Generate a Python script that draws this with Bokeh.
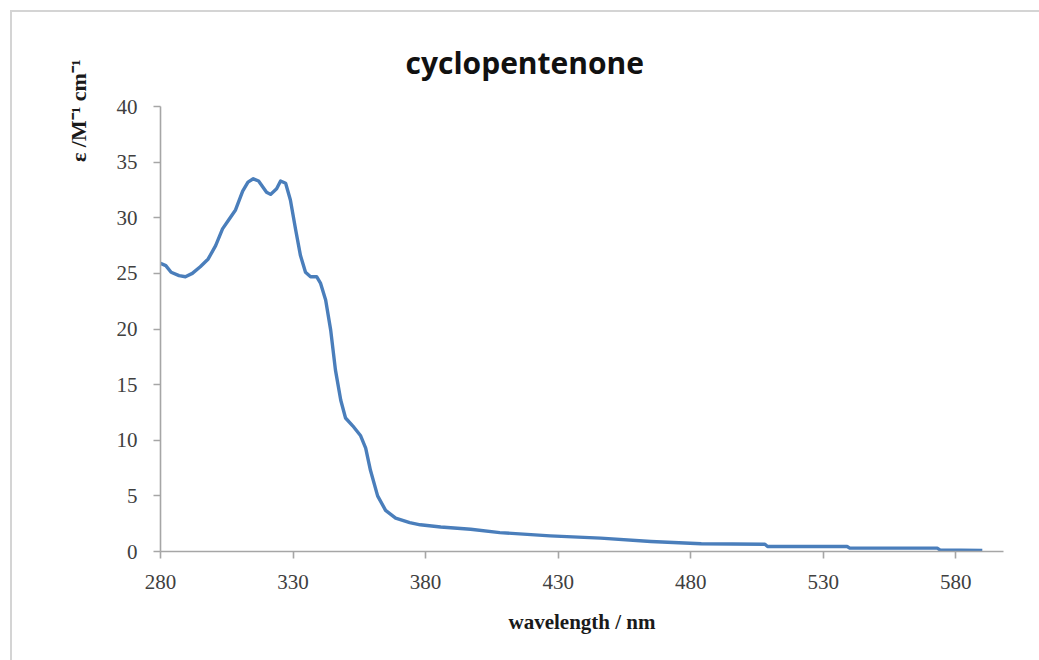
from bokeh.plotting import figure
from bokeh.models import Range1d, FixedTicker, Title
from bokeh.embed import file_html
from bokeh.resources import INLINE

title_text = "cyclopentenone"
x_label = "wavelength / nm"
y_label = "ε /M\u207b\u00b9 cm\u207b\u00b9"
x_ticks = [280, 330, 380, 430, 480, 530, 580]
y_ticks = [0, 5, 10, 15, 20, 25, 30, 35, 40]

wavelength = [280, 282, 284, 287, 289.4, 292, 295, 298, 300.8, 303.4, 305.7, 308.3,
              311, 313, 315, 317, 320, 321.5, 323.8, 325.3, 327.2, 329, 331, 332.8,
              334.7, 336.6, 338.9, 340.4, 342.3, 344.2, 346, 348, 349.8, 352.5, 355.5,
              357.4, 359.2, 361.9, 364.9, 368.7, 374, 378, 385.7, 397, 408, 427, 446,
              465, 484, 508, 509, 539, 540, 573, 574, 590]
epsilon = [25.9, 25.7, 25.1, 24.8, 24.7, 25.0, 25.6, 26.3, 27.5, 29.0, 29.8, 30.7,
           32.4, 33.2, 33.5, 33.3, 32.3, 32.1, 32.6, 33.3, 33.1, 31.6, 28.9, 26.6,
           25.1, 24.7, 24.7, 24.1, 22.6, 19.9, 16.3, 13.6, 12.0, 11.3, 10.4,
           9.3, 7.3, 5.0, 3.7, 3.0, 2.6, 2.4, 2.2, 2.0, 1.7, 1.4, 1.2,
           0.9, 0.7, 0.65, 0.45, 0.45, 0.3, 0.3, 0.15, 0.1]

p = figure(width=1039, height=660, output_backend="svg", toolbar_location=None,
           x_range=Range1d(280, 598), y_range=Range1d(0, 40),
           min_border_left=160, min_border_right=36, min_border_top=106, min_border_bottom=109)
p.outline_line_color = None
p.xgrid.visible = False
p.ygrid.visible = False
p.background_fill_color = "white"
p.border_fill_color = None
p.styles = {
    "background-color": "white",
    "background-image": "linear-gradient(#d4d4d4, #d4d4d4), linear-gradient(#d4d4d4, #d4d4d4)",
    "background-size": "100% 2px, 2px 100%",
    "background-position": "10px 10px, 10px 10px",
    "background-repeat": "no-repeat",
}

p.line(wavelength, epsilon, line_color="#4a7ebb", line_width=3.4, line_join="round")

for ax in (p.xaxis[0], p.yaxis[0]):
    ax.axis_line_color = "#a6a6a6"
    ax.axis_line_width = 1.6
    ax.major_tick_line_color = "#a6a6a6"
    ax.major_tick_line_width = 1.6
    ax.major_tick_in = 0
    ax.major_tick_out = 7
    ax.minor_tick_line_color = None
    ax.major_label_text_font = "Liberation Serif"
    ax.major_label_text_font_size = "21px"
    ax.major_label_text_color = "#404040"
    ax.major_label_standoff = 16

p.xaxis[0].ticker = FixedTicker(ticks=x_ticks)
p.yaxis[0].ticker = FixedTicker(ticks=y_ticks)

p.xaxis[0].axis_label = x_label
p.xaxis[0].axis_label_text_font = "Liberation Serif"
p.xaxis[0].axis_label_text_font_style = "bold"
p.xaxis[0].axis_label_text_font_size = "21px"
p.xaxis[0].axis_label_text_color = "#1a1a1a"
p.xaxis[0].axis_label_standoff = 18

p.title.text = title_text
p.title.align = "left"
p.title.offset = 245
p.title.standoff = 48
p.title.text_font = "Open Sans"
p.title.text_font_style = "bold"
p.title.text_font_size = "30px"
p.title.text_color = "#111111"

p.add_layout(Title(text=y_label, align="right", offset=-47, standoff=46,
                   text_font="Liberation Serif", text_font_style="bold",
                   text_font_size="22px", text_color="#1a1a1a"), "left")

open("out.html", "w").write(file_html(p, INLINE))
